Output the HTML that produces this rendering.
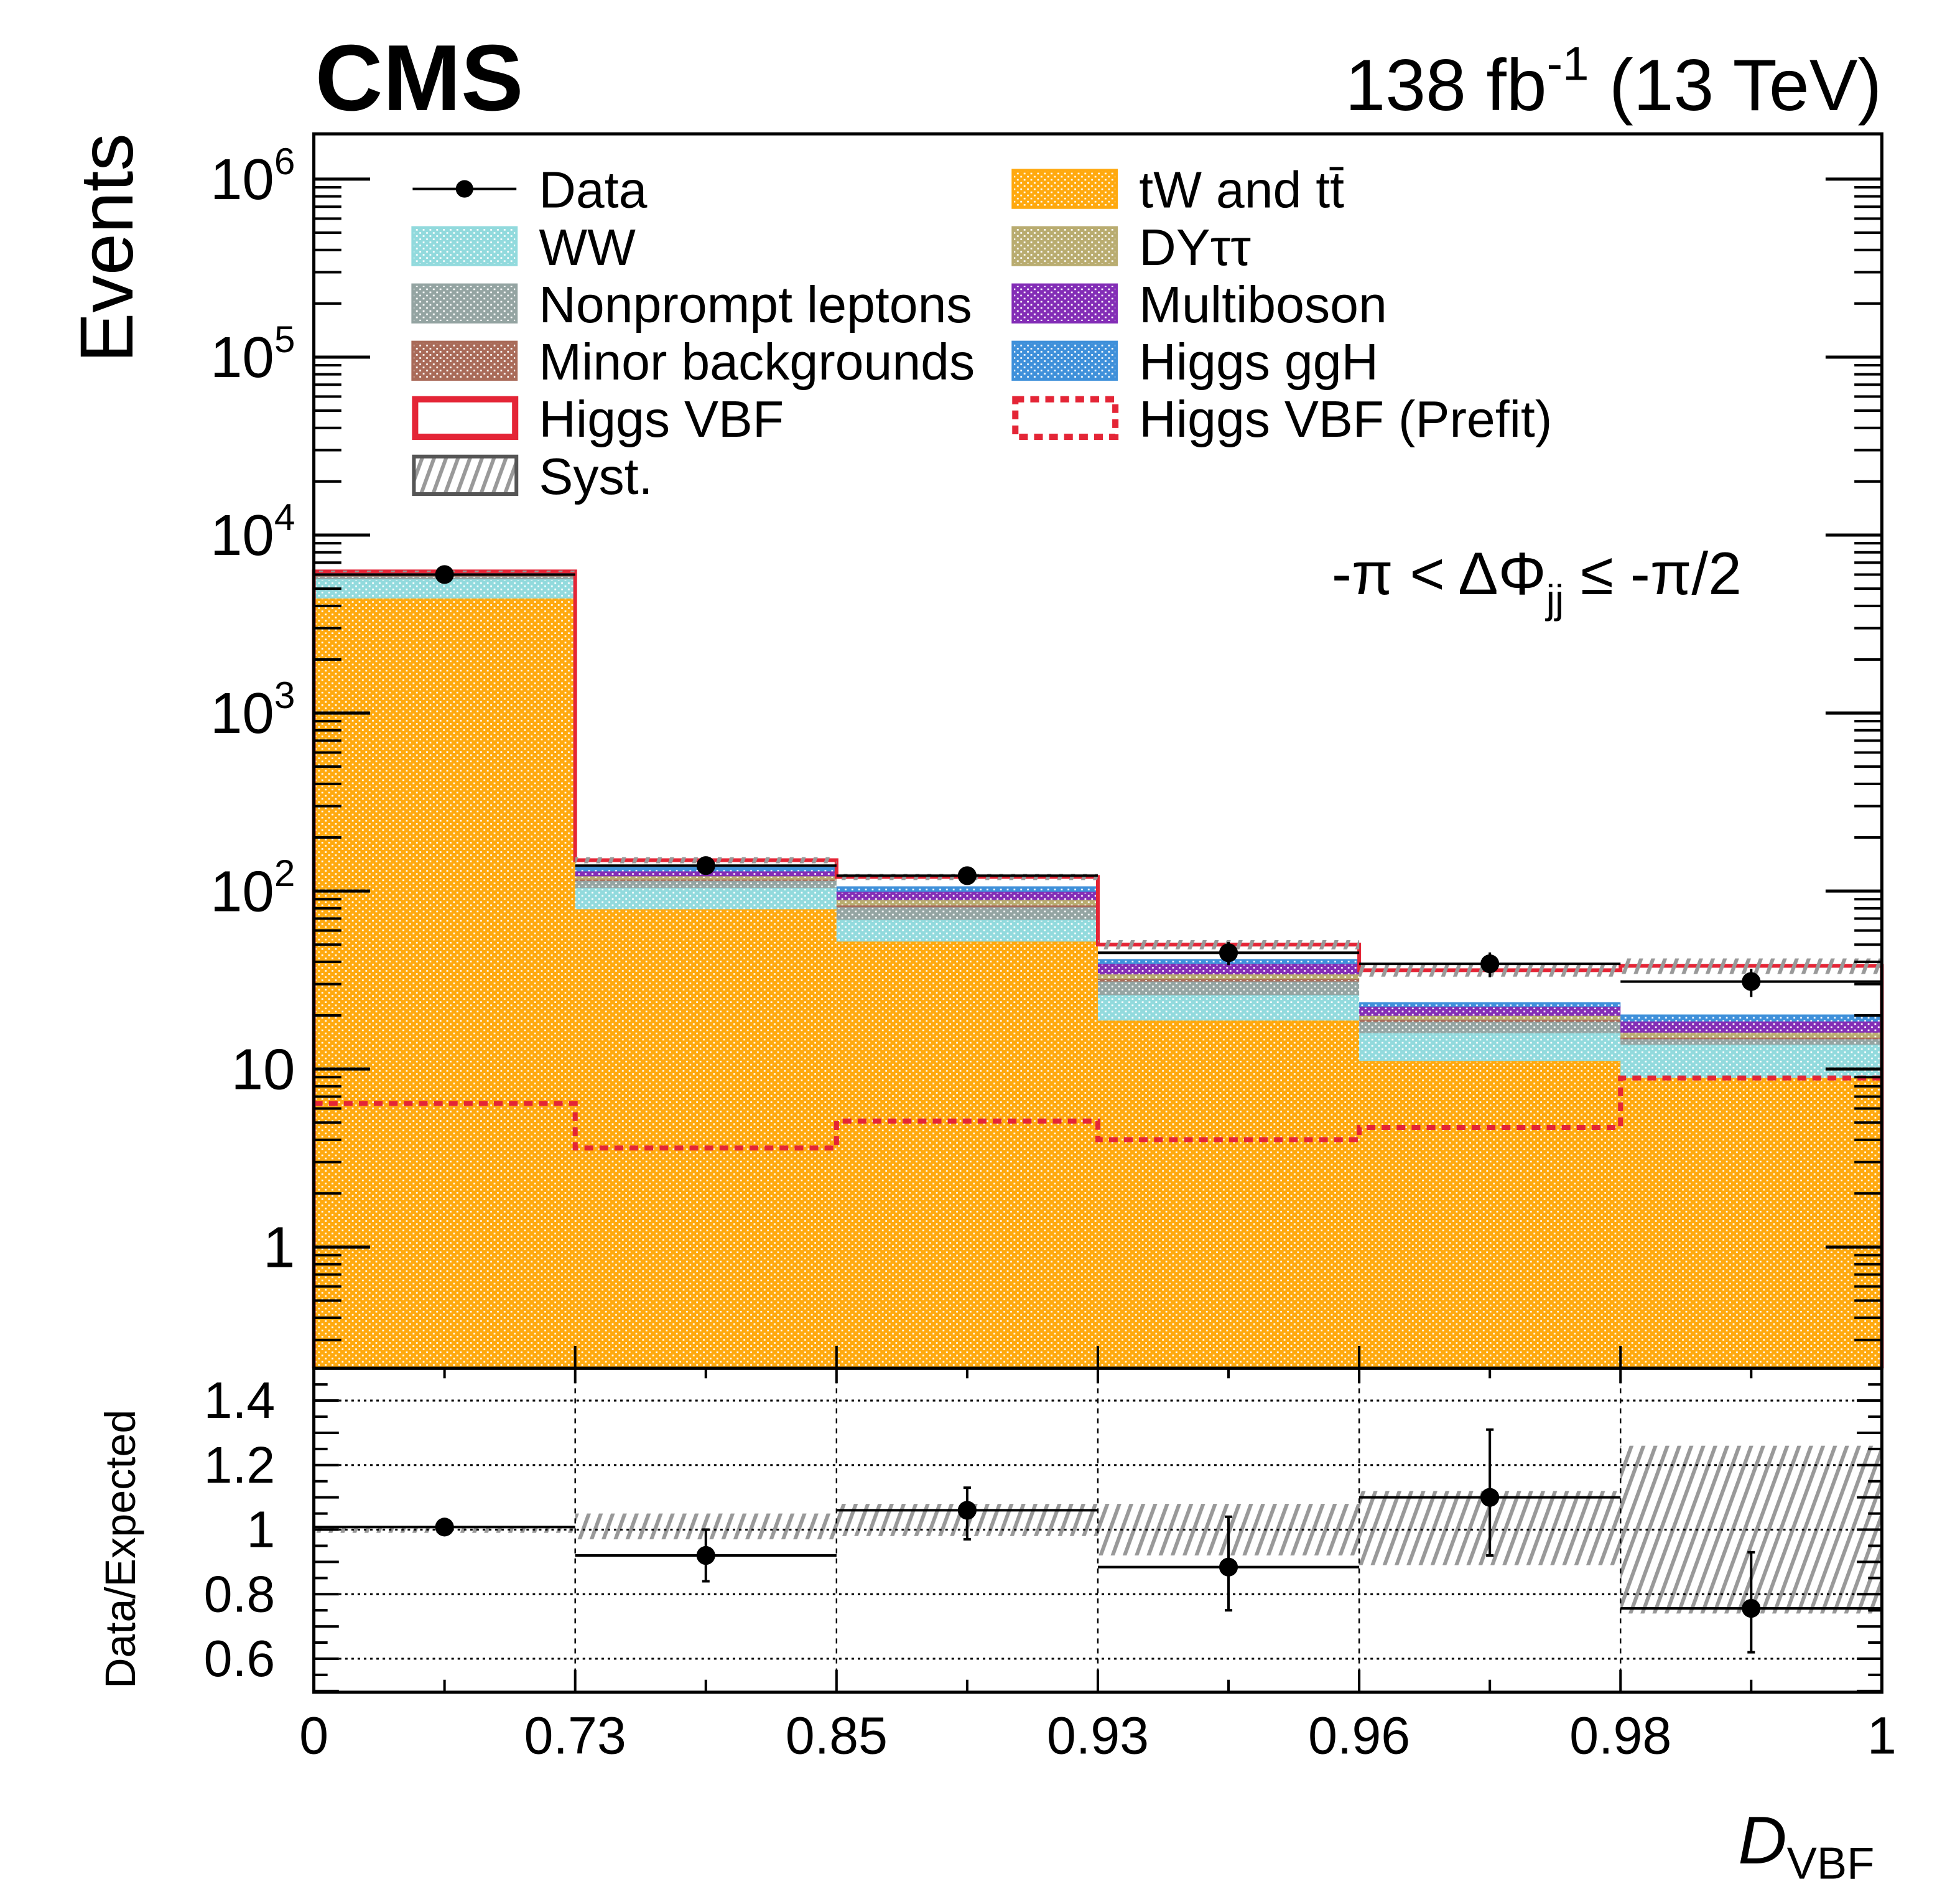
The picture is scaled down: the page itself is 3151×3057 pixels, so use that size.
<!DOCTYPE html>
<html><head><meta charset="utf-8"><style>
html,body{margin:0;padding:0;background:#fff}
svg{display:block}
text{font-family:"Liberation Sans",sans-serif;fill:#000}
</style></head><body>
<svg id="chart" width="3151" height="3057" viewBox="0 0 1567.5 1520.7" xmlns="http://www.w3.org/2000/svg">
<defs>
<pattern id="p-tt" patternUnits="userSpaceOnUse" width="5.4" height="5"><rect width="5.4" height="5" fill="#ffa90e"/><rect x="0.6" y="0.6" width="1.4" height="1.3" fill="#fff"/><rect x="3.3" y="3.1" width="1.4" height="1.3" fill="#fff"/></pattern>
<pattern id="p-ww" patternUnits="userSpaceOnUse" width="5.4" height="5"><rect width="5.4" height="5" fill="#92dadd"/><rect x="0.6" y="0.6" width="1.4" height="1.3" fill="#fff"/><rect x="3.3" y="3.1" width="1.4" height="1.3" fill="#fff"/></pattern>
<pattern id="p-np" patternUnits="userSpaceOnUse" width="5.4" height="5"><rect width="5.4" height="5" fill="#94a4a2"/><rect x="0.6" y="0.6" width="1.4" height="1.3" fill="#fff"/><rect x="3.3" y="3.1" width="1.4" height="1.3" fill="#fff"/></pattern>
<pattern id="p-minor" patternUnits="userSpaceOnUse" width="5.4" height="5"><rect width="5.4" height="5" fill="#a96b59"/><rect x="0.6" y="0.6" width="1.4" height="1.3" fill="#fff"/><rect x="3.3" y="3.1" width="1.4" height="1.3" fill="#fff"/></pattern>
<pattern id="p-dy" patternUnits="userSpaceOnUse" width="5.4" height="5"><rect width="5.4" height="5" fill="#b9ac70"/><rect x="0.6" y="0.6" width="1.4" height="1.3" fill="#fff"/><rect x="3.3" y="3.1" width="1.4" height="1.3" fill="#fff"/></pattern>
<pattern id="p-mb" patternUnits="userSpaceOnUse" width="5.4" height="5"><rect width="5.4" height="5" fill="#832db6"/><rect x="0.6" y="0.6" width="1.4" height="1.3" fill="#fff"/><rect x="3.3" y="3.1" width="1.4" height="1.3" fill="#fff"/></pattern>
<pattern id="p-ggh" patternUnits="userSpaceOnUse" width="5.4" height="5"><rect width="5.4" height="5" fill="#3f90da"/><rect x="0.6" y="0.6" width="1.4" height="1.3" fill="#fff"/><rect x="3.3" y="3.1" width="1.4" height="1.3" fill="#fff"/></pattern>
<pattern id="p-syst" patternUnits="userSpaceOnUse" width="9" height="9" patternTransform="rotate(20)"><rect width="3" height="9" fill="#999"/></pattern>
</defs>
<g id="plot"></g>
<text x="252" y="88" font-size="75" font-weight="bold">CMS</text>
<text x="1505" y="88" font-size="58" text-anchor="end">138 fb<tspan dy="-24" font-size="38">-1</tspan><tspan dy="24"> (13 TeV)</tspan></text>
<text transform="translate(106,290) rotate(-90)" font-size="60">Events</text>
<text transform="translate(108,1350) rotate(-90)" font-size="34">Data/Expected</text>
<text x="1390" y="1490" font-size="54" font-style="italic">D<tspan font-style="normal" font-size="36" dy="12">VBF</tspan></text>
<text x="1065" y="475" font-size="48">-π &lt; ΔΦ<tspan font-size="32" dy="15">jj</tspan><tspan dy="-15"> ≤ -π/2</tspan></text>
</svg>
<script>
const binLabels = ["0","0.73","0.85","0.93","0.96","0.98","1"];
const ttbar = [4400, 79, 52, 18.7, 11.1, 8.9];
const ww = [1250, 25, 17, 7.3, 4.8, 4.8];
const nonprompt = [250, 10, 12, 5, 2.5, 1];
const minorBkg = [20, 2, 2, 1, 0.5, 0.3];
const dytt = [100, 5, 6, 2, 1, 1];
const multiboson = [80, 8, 10, 5, 2.5, 2.5];
const ggh = [30, 6, 6, 2, 1, 1.5];
const vbf = [120, 14, 15, 9, 12.5, 18];
const vbfPrefit = [6.4, 3.6, 5.1, 4.0, 4.7, 8.9];
const dataVals = [6000, 139, 122, 45, 39, 31];
const dataErr = [77, 12, 11, 6.7, 6.2, 5.6];
const ratioVals = [1.008, 0.92, 1.06, 0.884, 1.10, 0.756];
const ratioLo = [1.0, 0.84, 0.97, 0.75, 0.92, 0.62];
const ratioHi = [1.02, 1.0, 1.13, 1.04, 1.31, 0.93];
const systLo = [0.99, 0.97, 0.98, 0.92, 0.89, 0.74];
const systHi = [1.01, 1.05, 1.08, 1.08, 1.12, 1.26];
const mainSystLo = [0.99, 0.96, 0.96, 0.94, 0.92, 0.90];
const mainSystHi = [1.01, 1.04, 1.04, 1.06, 1.08, 1.10];
const yTickLabels = ["1","10","10^2","10^3","10^4","10^5","10^6"];
const ratioTicks = [0.6, 0.8, 1.0, 1.2, 1.4];
const ratioTickLabels = ["0.6","0.8","1","1.2","1.4"];

const NS = "http://www.w3.org/2000/svg";
const L = 251, R = 1505, T = 107, MB = 1094, RB = 1353;
const nb = dataVals.length;
const bw = (R - L) / nb;
function xEdge(i){ return L + bw * i; }
function xC(i){ return L + bw * (i + 0.5); }
function yMain(v){ const y = 997 - 142.3 * Math.log10(v); return Math.max(T, Math.min(MB, y)); }
function yRat(r){ return 1223 - 258 * (r - 1); }
const g = document.getElementById('plot');
function el(tag, attrs, parent){ const e = document.createElementNS(NS, tag); for (const k in attrs) e.setAttribute(k, attrs[k]); (parent || g).appendChild(e); return e; }

const comps = [
  {v: ttbar, fill: "url(#p-tt)", stroke: "#ffa90e", name: "ttbar"},
  {v: ww, fill: "url(#p-ww)", stroke: "#92dadd", name: "ww"},
  {v: nonprompt, fill: "url(#p-np)", stroke: "#94a4a2", name: "nonprompt"},
  {v: minorBkg, fill: "url(#p-minor)", stroke: "#a96b59", name: "minor"},
  {v: dytt, fill: "url(#p-dy)", stroke: "#b9ac70", name: "dytautau"},
  {v: multiboson, fill: "url(#p-mb)", stroke: "#832db6", name: "multiboson"},
  {v: ggh, fill: "url(#p-ggh)", stroke: "#3f90da", name: "higgs-ggh"}
];
const cum = new Array(nb).fill(0);
comps.forEach(c => {
  for (let i = 0; i < nb; i++) {
    const lo = cum[i], hi = cum[i] + c.v[i];
    const y0 = lo > 0 ? yMain(lo) : MB, y1 = yMain(hi);
    const r = el('rect', {x: xEdge(i), y: y1, width: bw, height: Math.max(0, y0 - y1), fill: c.fill});
    
    
    const ln = el('line', {x1: xEdge(i), x2: xEdge(i+1), y1: y1, y2: y1, stroke: c.stroke, 'stroke-width': 1.5});
    
    
    cum[i] = hi;
  }
});
let dTot = "";
for (let i = 0; i < nb; i++) {
  const y = yMain(cum[i] + vbf[i]);
  dTot += (i === 0 ? "M" + xEdge(i) + "," + MB + " L" : " L") + xEdge(i) + "," + y + " L" + xEdge(i+1) + "," + y;
}
dTot += " L" + R + "," + MB;
const tot = el('path', {d: dTot, fill: "none", stroke: "#e42536", 'stroke-width': 3});


for (let i = 0; i < nb; i++) {
  const t = cum[i] + vbf[i];
  const yh = yMain(t * mainSystHi[i]), yl = yMain(t * mainSystLo[i]);
  const s = el('rect', {x: xEdge(i), y: yh, width: bw, height: yl - yh, fill: "url(#p-syst)"});
  
  
}
let dPre = "";
for (let i = 0; i < nb; i++) {
  const y = yMain(vbfPrefit[i]);
  dPre += (i === 0 ? "M" : " L") + xEdge(i) + "," + y + " L" + xEdge(i+1) + "," + y;
}
const pre = el('path', {d: dPre, fill: "none", stroke: "#e42536", 'stroke-width': 4, 'stroke-dasharray': "7,5"});


for (let i = 0; i < nb; i++) {
  const y = yMain(dataVals[i]);
  el('line', {x1: xEdge(i), x2: xEdge(i+1), y1: y, y2: y, stroke: "#000", 'stroke-width': 2});
  el('line', {x1: xC(i), x2: xC(i), y1: yMain(dataVals[i] + dataErr[i]), y2: yMain(dataVals[i] - dataErr[i]), stroke: "#000", 'stroke-width': 2});
  const c = el('circle', {cx: xC(i), cy: y, r: 7.5, fill: "#000"});
  
  
}
el('rect', {x: L, y: T, width: R - L, height: MB - T, fill: "none", stroke: "#000", 'stroke-width': 2.5});
for (let d = 0; d <= 6; d++) {
  const y = 997 - 142.3 * d;
  el('line', {x1: L, x2: L + 45, y1: y, y2: y, stroke: "#000", 'stroke-width': 2.5});
  el('line', {x1: R, x2: R - 45, y1: y, y2: y, stroke: "#000", 'stroke-width': 2.5});
  const lab = yTickLabels[d];
  const tx = el('text', {x: 236, y: y + 16, 'font-size': 46, 'text-anchor': "end"});
  
  
  if (lab.indexOf('^') > 0) {
    const parts = lab.split('^');
    tx.textContent = parts[0];
    const sp = document.createElementNS(NS, 'tspan'); sp.setAttribute('dy', -20); sp.setAttribute('font-size', 30); sp.textContent = parts[1]; tx.appendChild(sp);
  } else tx.textContent = lab;
}
for (let d = -1; d <= 6; d++) {
  for (let m = 2; m <= 9; m++) {
    const y = 997 - 142.3 * (d + Math.log10(m));
    if (y < T || y > MB) continue;
    el('line', {x1: L, x2: L + 22, y1: y, y2: y, stroke: "#000", 'stroke-width': 2});
    el('line', {x1: R, x2: R - 22, y1: y, y2: y, stroke: "#000", 'stroke-width': 2});
  }
}
for (let i = 0; i < nb; i++) {
  const yh = yRat(systHi[i]), yl = yRat(systLo[i]);
  const s = el('rect', {x: xEdge(i), y: yh, width: bw, height: yl - yh, fill: "url(#p-syst)"});
  
  
}
ratioTicks.forEach((r, k) => {
  const y = yRat(r);
  el('line', {x1: L, x2: R, y1: y, y2: y, stroke: "#000", 'stroke-width': 1.5, 'stroke-dasharray': "2,3"});
  const tx = el('text', {x: 220, y: y + 14, 'font-size': 41, 'text-anchor': "end"});
  
  
  tx.textContent = ratioTickLabels[k];
});
for (let r = 0.5; r <= 1.501; r += 0.05) {
  const y = yRat(r); const len = (Math.round(r * 100) % 10 === 0) ? 20 : 11;
  el('line', {x1: L, x2: L + len, y1: y, y2: y, stroke: "#000", 'stroke-width': 2});
  el('line', {x1: R, x2: R - len, y1: y, y2: y, stroke: "#000", 'stroke-width': 2});
}
for (let i = 1; i < nb; i++) el('line', {x1: xEdge(i), x2: xEdge(i), y1: MB, y2: RB, stroke: "#000", 'stroke-width': 1.2, 'stroke-dasharray': "4,4"});
for (let i = 0; i < nb; i++) {
  const y = yRat(ratioVals[i]);
  el('line', {x1: xEdge(i), x2: xEdge(i+1), y1: y, y2: y, stroke: "#000", 'stroke-width': 2});
  el('line', {x1: xC(i), x2: xC(i), y1: yRat(ratioHi[i]), y2: yRat(ratioLo[i]), stroke: "#000", 'stroke-width': 2});
  el('line', {x1: xC(i)-3, x2: xC(i)+3, y1: yRat(ratioHi[i]), y2: yRat(ratioHi[i]), stroke: "#000", 'stroke-width': 2});
  el('line', {x1: xC(i)-3, x2: xC(i)+3, y1: yRat(ratioLo[i]), y2: yRat(ratioLo[i]), stroke: "#000", 'stroke-width': 2});
  const c = el('circle', {cx: xC(i), cy: y, r: 7.5, fill: "#000"});
  
  
}
el('rect', {x: L, y: MB, width: R - L, height: RB - MB, fill: "none", stroke: "#000", 'stroke-width': 2.5});
for (let i = 0; i <= nb; i++) {
  el('line', {x1: xEdge(i), x2: xEdge(i), y1: RB, y2: RB - 18, stroke: "#000", 'stroke-width': 2});
  el('line', {x1: xEdge(i), x2: xEdge(i), y1: MB, y2: MB - 18, stroke: "#000", 'stroke-width': 2});
  el('line', {x1: xEdge(i), x2: xEdge(i), y1: MB, y2: MB + 12, stroke: "#000", 'stroke-width': 2});
  const tx = el('text', {x: xEdge(i), y: 1402, 'font-size': 42, 'text-anchor': "middle"});
  
  
  tx.textContent = binLabels[i];
}
for (let i = 0; i < nb; i++) {
  el('line', {x1: xC(i), x2: xC(i), y1: RB, y2: RB - 10, stroke: "#000", 'stroke-width': 2});
  el('line', {x1: xC(i), x2: xC(i), y1: MB, y2: MB + 8, stroke: "#000", 'stroke-width': 2});
}
const leg = [
  {c:0,r:0,t:"Data",k:"data"},{c:1,r:0,t:"tW and tt̄",k:"url(#p-tt)",s:"#ffa90e"},
  {c:0,r:1,t:"WW",k:"url(#p-ww)",s:"#92dadd"},{c:1,r:1,t:"DYττ",k:"url(#p-dy)",s:"#b9ac70"},
  {c:0,r:2,t:"Nonprompt leptons",k:"url(#p-np)",s:"#94a4a2"},{c:1,r:2,t:"Multiboson",k:"url(#p-mb)",s:"#832db6"},
  {c:0,r:3,t:"Minor backgrounds",k:"url(#p-minor)",s:"#a96b59"},{c:1,r:3,t:"Higgs ggH",k:"url(#p-ggh)",s:"#3f90da"},
  {c:0,r:4,t:"Higgs VBF",k:"vbf"},{c:1,r:4,t:"Higgs VBF (Prefit)",k:"prefit"},
  {c:0,r:5,t:"Syst.",k:"syst"}
];
leg.forEach(e => {
  const bx = e.c === 0 ? 330 : 810, tx = e.c === 0 ? 431 : 911, yc = 151 + e.r * 45.8;
  const grp = el('g', {});
  
  
  if (e.k === 'data') {
    el('line', {x1: bx, x2: bx + 83, y1: yc, y2: yc, stroke: "#000", 'stroke-width': 2}, grp);
    el('circle', {cx: bx + 41.5, cy: yc, r: 7, fill: "#000"}, grp);
  } else if (e.k === 'vbf') {
    el('rect', {x: bx + 2, y: yc - 15, width: 80, height: 30, fill: "none", stroke: "#e42536", 'stroke-width': 5}, grp);
  } else if (e.k === 'prefit') {
    el('rect', {x: bx + 2, y: yc - 15, width: 80, height: 30, fill: "none", stroke: "#e42536", 'stroke-width': 5, 'stroke-dasharray': "7,5"}, grp);
  } else if (e.k === 'syst') {
    el('rect', {x: bx + 1, y: yc - 15, width: 82, height: 30, fill: "url(#p-syst)", stroke: "#555", 'stroke-width': 3}, grp);
  } else {
    el('rect', {x: bx, y: yc - 15, width: 83, height: 30, fill: e.k, stroke: e.s, 'stroke-width': 2}, grp);
  }
  const t = el('text', {x: tx, y: yc + 15, 'font-size': 41}, grp);
  t.textContent = e.t;
});
</script>
</body></html>
